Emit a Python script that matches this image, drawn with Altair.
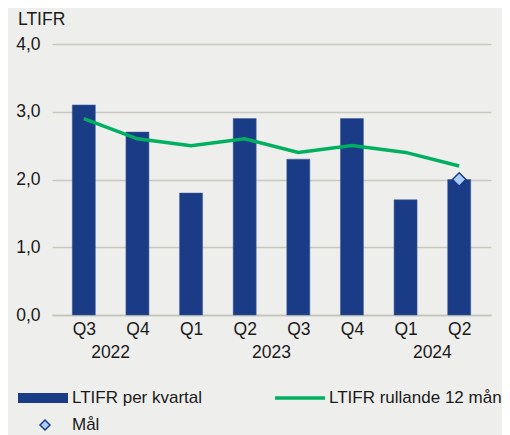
import altair as alt
import pandas as pd

quarters = ["Q3", "Q4", "Q1", "Q2", "Q3", "Q4", "Q1", "Q2"]
per_kvartal = [3.1, 2.7, 1.8, 2.9, 2.3, 2.9, 1.7, 2.0]
rullande = [2.9, 2.6, 2.5, 2.6, 2.4, 2.5, 2.4, 2.2]
years = ["2022", "2023", "2024"]
year_pos = [0.5, 3.5, 6.5]
goal_idx = [7]
goal_val = [2.0]

BAR = "#1a3c87"
GREEN = "#00b060"
BG = "#eeeeec"
FONT = "Liberation Sans"
FS = 17.5
LFS = 17

df = pd.DataFrame({"i": list(range(len(quarters))), "q": quarters,
                   "bar": per_kvartal, "line": rullande})
dy = pd.DataFrame({"pos": year_pos, "year": years})
dg = pd.DataFrame({"i": goal_idx, "v": goal_val})

xscale = alt.Scale(domain=[-0.5, 7.5], nice=False, zero=False)
yscale = alt.Scale(domain=[0, 4], nice=False)

q_expr = "[" + ",".join(f"'{q}'" for q in quarters) + "][datum.value]"

bars = alt.Chart(df).mark_bar(color=BAR, width=23, stroke="#3c5a9a", strokeWidth=0.5).encode(
    x=alt.X("i:Q", scale=xscale,
            axis=alt.Axis(title=None, values=list(range(8)), labelExpr=q_expr,
                          grid=False, ticks=False, domain=True, domainColor="#c4c4bc",
                          domainWidth=1.5, labelFontSize=FS, labelFont=FONT,
                          labelColor="#1a1a1a", labelPadding=5)),
    y=alt.Y("bar:Q", scale=yscale,
            axis=alt.Axis(title=None, values=[0, 1, 2, 3, 4],
                          labelExpr="replace(format(datum.value, '.1f'), '.', ',')",
                          grid=True, gridColor="#c8c8c0", gridWidth=1.5,
                          ticks=False, domain=False, labelFontSize=FS, labelFont=FONT,
                          labelColor="#1a1a1a", labelPadding=12)),
)

line = alt.Chart(df).mark_line(color=GREEN, strokeWidth=3.5).encode(
    x=alt.X("i:Q", scale=xscale), y=alt.Y("line:Q", scale=yscale))

goal = alt.Chart(dg).mark_point(shape="diamond", filled=True, fill="#aaccff",
                                stroke=BAR, strokeWidth=1.5, size=180, opacity=1).encode(
    x=alt.X("i:Q", scale=xscale), y=alt.Y("v:Q", scale=yscale))

year_text = alt.Chart(dy).mark_text(fontSize=FS, font=FONT, color="#1a1a1a",
                                    baseline="middle").encode(
    x=alt.X("pos:Q", scale=xscale), y=alt.value(309), text="year:N")

title = alt.Chart(pd.DataFrame({"t": ["LTIFR"]})).mark_text(
    fontSize=FS, font=FONT, color="#1a1a1a", align="left", baseline="middle").encode(
    x=alt.value(-34), y=alt.value(-24), text="t:N")

# legend
leg_bar = alt.Chart(pd.DataFrame({"a": [1]})).mark_rule(color=BAR, strokeWidth=10).encode(
    x=alt.value(-34), x2=alt.value(16), y=alt.value(354))
leg_line = alt.Chart(pd.DataFrame({"a": [1]})).mark_rule(color=GREEN, strokeWidth=3.5).encode(
    x=alt.value(223), x2=alt.value(273), y=alt.value(354))
leg_diamond = alt.Chart(pd.DataFrame({"a": [1]})).mark_point(
    shape="diamond", filled=True, fill="#aaccff", stroke=BAR, strokeWidth=1.5,
    size=100, opacity=1).encode(x=alt.value(-7), y=alt.value(381))
leg_text = alt.Chart(pd.DataFrame({
    "t": ["LTIFR per kvartal", "LTIFR rullande 12 mån", "Mål"],
    "x": [20, 277, 20], "y": [354, 354, 381]})).mark_text(
    fontSize=LFS, font=FONT, color="#1a1a1a", align="left", baseline="middle").encode(
    x=alt.X("x:Q", scale=None), y=alt.Y("y:Q", scale=None), text="t:N")

chart = alt.layer(bars, line, goal, year_text, title, leg_bar, leg_line, leg_diamond, leg_text).properties(
    width=439, height=271,
    autosize=alt.AutoSizeParams(type="none"),
    padding={"left": 44, "top": 36, "right": 11, "bottom": 120},
    background=BG,
).configure_view(stroke=None)

chart.save("out.html", embed_options={"renderer": "svg", "actions": False})
